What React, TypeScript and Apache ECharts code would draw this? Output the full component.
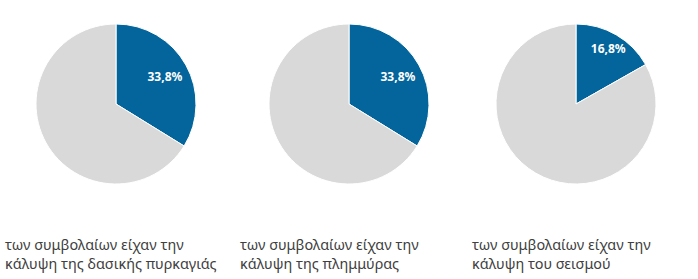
import React, { useEffect, useRef } from "react";
import * as echarts from "echarts";

const shares = [33.8, 33.8, 16.8];
const captions = [
  "των συμβολαίων είχαν την\nκάλυψη της δασικής πυρκαγιάς",
  "των συμβολαίων είχαν την\nκάλυψη της πλημμύρας",
  "των συμβολαίων είχαν την\nκάλυψη του σεισμού",
];

const centersX = [116, 349, 576];
const centerY = 104;
const radius = 80;
const labelRatio = [0.7, 0.7, 0.8];
const captionLeft = [5, 240, 472];
const BLUE = "#03659B";
const GREY = "#D9D9D9";

export default function App() {
  const ref = useRef<HTMLDivElement>(null);
  useEffect(() => {
    document.body.style.margin = "0";
    const chart = echarts.init(ref.current!, null, { renderer: "svg" });
    const series = shares.map((v, i) => ({
      type: "pie",
      center: [centersX[i], centerY],
      radius: [0, radius],
      startAngle: 90,
      clockwise: true,
      silent: true,
      itemStyle: { borderColor: "#fff", borderWidth: 1 },
      labelLine: { show: false },
      label: {
        show: false,
        position: "inside",
        color: "#fff",
        fontWeight: "bold",
        fontSize: 12,
        fontFamily: "Noto Sans",
        formatter: (p: any) => p.value.toFixed(1).replace(".", ",") + "%",
      },
      labelLayout: (p: any) => {
        const r = p.labelRect;
        const lx = r.x + r.width / 2;
        const ly = r.y + r.height / 2;
        const dx = lx - centersX[i];
        const dy = ly - centerY;
        const d = Math.sqrt(dx * dx + dy * dy) || 1;
        const target = radius * labelRatio[i];
        return {
          x: centersX[i] + (dx / d) * target,
          y: centerY + (dy / d) * target,
          align: "center",
          verticalAlign: "middle",
        };
      },
      data: [
        { value: v, itemStyle: { color: BLUE }, label: { show: true } },
        { value: +(100 - v).toFixed(1), itemStyle: { color: GREY } },
      ],
    }));
    chart.setOption({
      animation: false,
      backgroundColor: "#fff",
      title: captions.map((c, i) => ({
        text: c,
        left: captionLeft[i],
        top: 235,
        padding: 0,
        textStyle: {
          fontSize: 14.4,
          lineHeight: 19,
          fontWeight: "normal",
          color: "#404040",
          fontFamily: "Noto Sans",
        },
      })),
      series,
    });
    return () => chart.dispose();
  }, []);
  return <div ref={ref} style={{ width: 698, height: 279 }} />;
}
